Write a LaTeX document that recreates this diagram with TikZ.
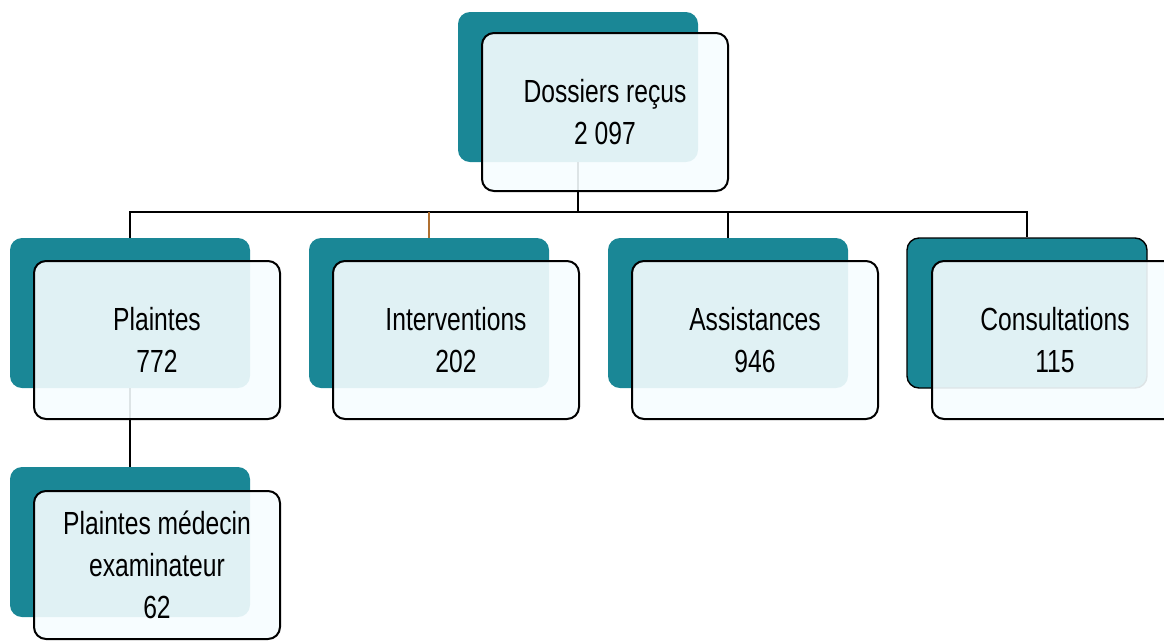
\documentclass[tikz,border=0pt]{standalone}
\usepackage{fontspec}
\setmainfont{Liberation Sans}
\newfontfamily\boxfont[FakeStretch=0.77]{Liberation Sans}
\usepackage{tikz}
\usetikzlibrary{calc}
\definecolor{boxteal}{RGB}{26,135,150}
\definecolor{boxfill}{RGB}{246,253,255}
\definecolor{linkbrown}{RGB}{176,112,48}

\begin{document}
\begin{tikzpicture}[x=1pt,y=-1pt,semithick]
  \tikzstyle{back}=[rectangle,rounded corners=12pt,fill=boxteal,minimum width=240pt,minimum height=150pt,inner sep=0pt]
  \tikzstyle{front}=[rectangle,rounded corners=12pt,draw=black,line width=2pt,fill=boxfill,fill opacity=0.9,text opacity=1,
                     minimum width=246pt,minimum height=158pt,inner sep=0pt,align=center,font=\boxfont\fontsize{32}{42}\selectfont]
  \tikzstyle{link}=[line width=1.8pt]

  \useasboundingbox (0,0) rectangle (1164,641);

  % teal boxes behind
  \node[back] (Rb) at (578,87)   {};
  \node[back] (Pb) at (130,313)  {};
  \node[back] (Ib) at (429,313)  {};
  \node[back] (Ab) at (728,313)  {};
  \node[back,draw=black,line width=1.4pt] (Cb) at (1027,313) {};
  \node[back] (Mb) at (130,542)  {};

  \coordinate (bus) at (580,212);

  \draw[link] (Rb.south) -- (Rb.south |- bus);
  \draw[link] (Pb.north) |- (bus) -| (Cb.north);
  \draw[link,linkbrown] (Ib.north) -- (Ib.north |- bus);
  \draw[link] (Ab.north) -- (Ab.north |- bus);
  \draw[link] (Pb.south) -- (Mb.north);

  % boxes in front
  \node[front] (R) at ($(Rb)+(27,25)$) {Dossiers reçus\\2 097};
  \node[front] (P) at ($(Pb)+(27,27)$) {Plaintes\\772};
  \node[front] (I) at ($(Ib)+(27,27)$) {Interventions\\202};
  \node[front] (A) at ($(Ab)+(27,27)$) {Assistances\\946};
  \node[front] (C) at ($(Cb)+(28,27)$) {Consultations\\115};
  \node[front,minimum height=148pt] (M) at ($(Mb)+(27,23)$) {Plaintes médecin\\examinateur\\62};
\end{tikzpicture}
\end{document}
